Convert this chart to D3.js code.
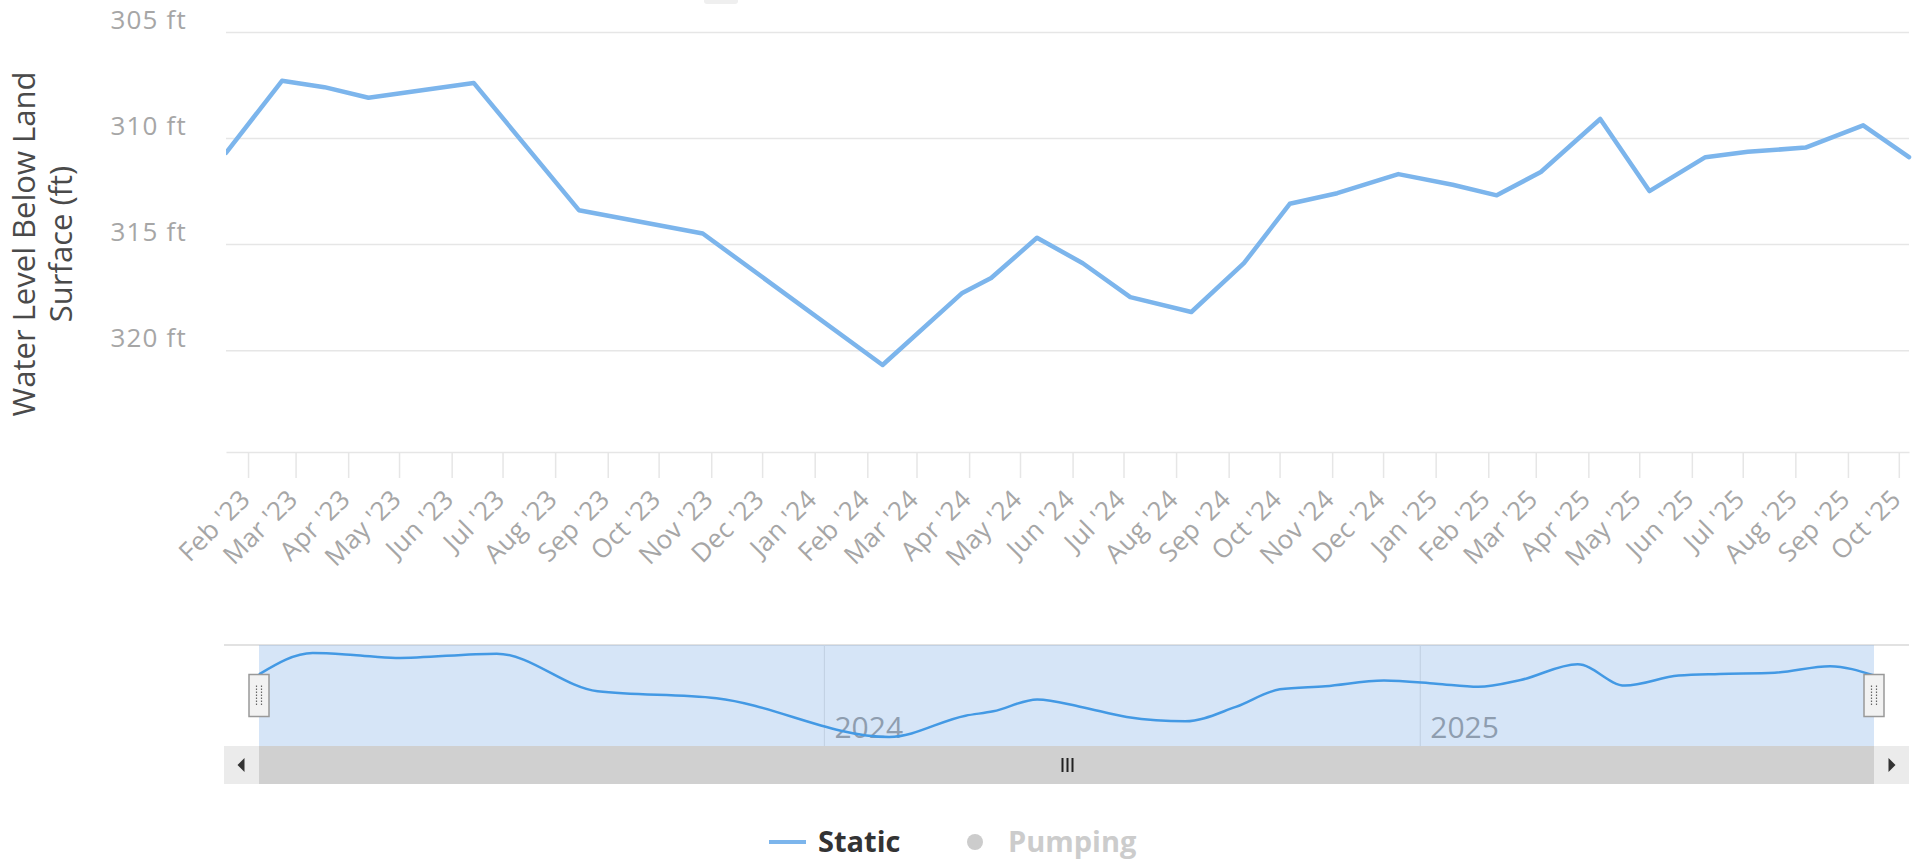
<!DOCTYPE html>
<html><head><meta charset="utf-8">
<script src="https://cdn.jsdelivr.net/npm/d3@7"></script>
<style>
body{margin:0;background:#fff;}
svg{display:block;font-family:"Open Sans",sans-serif;}
</style>
</head><body>
<svg id="c" width="1925" height="861"></svg>
<script>
// ---- data ----
const dates = ["2023-01-19","2023-02-21","2023-03-18","2023-04-13","2023-06-14","2023-08-15","2023-10-27",
  "2024-02-10","2024-03-28","2024-04-14","2024-05-11","2024-06-07","2024-07-05","2024-08-10","2024-09-10",
  "2024-10-07","2024-11-04","2024-12-10","2025-01-11","2025-02-06","2025-03-04","2025-04-08","2025-05-07",
  "2025-06-09","2025-07-04","2025-08-07","2025-09-10","2025-10-07"];
const staticLevels = [310.7,307.3,307.6,308.1,307.4,313.4,314.5,
  320.7,317.3,316.6,314.7,315.9,317.5,318.2,315.9,
  313.1,312.6,311.7,312.2,312.7,311.6,309.1,312.5,
  310.9,310.65,310.45,309.4,310.9];
const yTicks = [305,310,315,320];
const yTitleLines = ["Water Level Below Land","Surface (ft)"];
const legendNames = ["Static","Pumping"];

// ---- layout ----
const W = 1925, H = 861;
const P = {l:226, r:1909, t:32, b:452};
const NAV = {l:259, r:1874, t:645, b:746, sb:784, outerL:224, outerR:1909};
const lineColor = "#7cb5ec";
const labelGray = "#a6a6a6";

const parse = d3.timeParse("%Y-%m-%d");
const pts = dates.map((d,i)=>({date:parse(d), v:staticLevels[i]}));

const svg = d3.select("#c");
svg.append("rect").attr("width",W).attr("height",H).attr("fill","#fff");

const x = d3.scaleTime().domain(d3.extent(pts,d=>d.date)).range([P.l,P.r]);
const y = d3.scaleLinear().domain([305,324.8]).range([P.t,P.b]);

// top cut-off button remnant
svg.append("rect").attr("x",704).attr("y",-12).attr("width",34).attr("height",16).attr("rx",3).attr("fill","#efefef");

// gridlines
const grid = svg.append("g").attr("transform",`translate(${P.l},0)`)
  .call(d3.axisLeft(y).tickValues(yTicks).tickSize(-(P.r-P.l)).tickFormat(""));
grid.select(".domain").remove();
grid.selectAll("line").attr("stroke","#e6e6e6").attr("stroke-width",1.5);

// y axis labels
const ya = svg.append("g").attr("transform",`translate(${P.l},0)`)
  .call(d3.axisLeft(y).tickValues(yTicks).tickSize(0).tickFormat(d=>d+" ft"));
ya.select(".domain").remove();
ya.selectAll("text").attr("x",-39).attr("dy",-3.5)
  .attr("font-size",26).attr("letter-spacing",1.2).attr("fill",labelGray).attr("font-family","Open Sans, sans-serif");

// y title
const yt = svg.append("text").attr("transform","translate(0,244) rotate(-90)")
  .attr("text-anchor","middle").attr("font-size",31).attr("fill","#4a4a4a");
yTitleLines.forEach((t,i)=>{
  yt.append("tspan").attr("x",0).attr("y",35+i*37).text(t);
});

// x axis
const xa = svg.append("g").attr("transform",`translate(0,${P.b})`)
  .call(d3.axisBottom(x).ticks(d3.timeMonth.every(1)).tickFormat(d3.timeFormat("%b '%y")).tickSize(26).tickSizeOuter(0));
xa.select(".domain").attr("stroke","#e6e6e6").attr("stroke-width",1.5);
xa.selectAll(".tick line").attr("stroke","#e6e6e6").attr("stroke-width",1.5);
xa.selectAll(".tick text").attr("x",0).attr("y",0).attr("dy",0)
  .attr("text-anchor","end").attr("transform","translate(3,49) rotate(-45)")
  .attr("font-size",26).attr("letter-spacing",0.2).attr("fill",labelGray).attr("font-family","Open Sans, sans-serif");

// main line
svg.append("clipPath").attr("id","pc").append("rect")
  .attr("x",P.l).attr("y",P.t-10).attr("width",P.r-P.l+3).attr("height",P.b-P.t+10);
svg.append("path").datum(pts)
  .attr("clip-path","url(#pc)")
  .attr("d",d3.line().x(d=>x(d.date)).y(d=>y(d.v)))
  .attr("fill","none").attr("stroke",lineColor).attr("stroke-width",4.5)
  .attr("stroke-linejoin","round").attr("stroke-linecap","round");

// ---- navigator ----
const xn = d3.scaleTime().domain(x.domain()).range([NAV.l,NAV.r]);
const yn = d3.scaleLinear().domain([d3.min(staticLevels),d3.max(staticLevels)]).range([NAV.t+8,NAV.b-9]);

svg.append("line").attr("x1",NAV.outerL).attr("x2",NAV.outerR).attr("y1",NAV.t).attr("y2",NAV.t)
  .attr("stroke","#d8d8d8").attr("stroke-width",1.5);

// year grid + labels
const nax = svg.append("g").attr("transform",`translate(0,${NAV.t})`)
  .call(d3.axisBottom(xn).ticks(d3.timeYear.every(1)).tickSize(NAV.b-NAV.t).tickFormat(d3.timeFormat("%Y")));
nax.select(".domain").remove();
nax.selectAll(".tick line").attr("stroke","#e4e4e4").attr("stroke-width",1.2);
nax.selectAll(".tick text").attr("x",10).attr("y",NAV.b-NAV.t-8).attr("dy",0)
  .attr("text-anchor","start").attr("font-size",30).attr("fill","#999").attr("font-family","Open Sans, sans-serif");

// mask
svg.append("rect").attr("x",NAV.l).attr("y",NAV.t).attr("width",NAV.r-NAV.l).attr("height",NAV.b-NAV.t)
  .attr("fill","rgb(120,170,230)").attr("fill-opacity",0.3);

// navigator series
svg.append("path").datum(pts)
  .attr("d",d3.line().curve(d3.curveMonotoneX).x(d=>xn(d.date)).y(d=>yn(d.v)))
  .attr("fill","none").attr("stroke","#4399e4").attr("stroke-width",2.5);

// scrollbar
svg.append("rect").attr("x",NAV.outerL).attr("y",NAV.b).attr("width",NAV.outerR-NAV.outerL).attr("height",NAV.sb-NAV.b)
  .attr("fill","#d0d0d0");
[[NAV.outerL,NAV.l],[NAV.r,NAV.outerR]].forEach(([a,b],i)=>{
  svg.append("rect").attr("x",a).attr("y",NAV.b).attr("width",b-a).attr("height",NAV.sb-NAV.b).attr("fill","#ebebeb");
  const cx=(a+b)/2, cy=(NAV.b+NAV.sb)/2;
  const p = i===0 ? `M${cx+3},${cy-7}L${cx+3},${cy+7}L${cx-4},${cy}Z` : `M${cx-3},${cy-7}L${cx-3},${cy+7}L${cx+4},${cy}Z`;
  svg.append("path").attr("d",p).attr("fill","#333");
});
const gx=(NAV.l+NAV.r)/2 + 1, gy=(NAV.b+NAV.sb)/2;
[-5,0,5].forEach(o=>{
  svg.append("rect").attr("x",gx+o-1).attr("y",gy-7).attr("width",2).attr("height",14).attr("fill","#222");
});

// handles
[NAV.l,NAV.r].forEach(hx=>{
  const cy=(NAV.t+NAV.b)/2;
  svg.append("rect").attr("x",hx-10).attr("y",cy-21).attr("width",20).attr("height",42)
    .attr("fill","#f2f2f2").attr("stroke","#999").attr("stroke-width",1.5);
  [-2.5,2.5].forEach(o=>{
    svg.append("line").attr("x1",hx+o).attr("x2",hx+o).attr("y1",cy-10).attr("y2",cy+10)
      .attr("stroke","#666").attr("stroke-width",1.2).attr("stroke-dasharray","1.5,1.5");
  });
});

// ---- legend ----
const lg = svg.append("g").attr("font-weight","bold").attr("font-size",29);
lg.append("line").attr("x1",769).attr("x2",806).attr("y1",842).attr("y2",842)
  .attr("stroke",lineColor).attr("stroke-width",4);
lg.append("text").attr("x",818).attr("y",852).attr("fill","#333").text(legendNames[0]);
lg.append("circle").attr("cx",975).attr("cy",842).attr("r",8).attr("fill","#cccccc");
lg.append("text").attr("x",1008).attr("y",852).attr("fill","#cccccc").text(legendNames[1]);
</script>
</body></html>
